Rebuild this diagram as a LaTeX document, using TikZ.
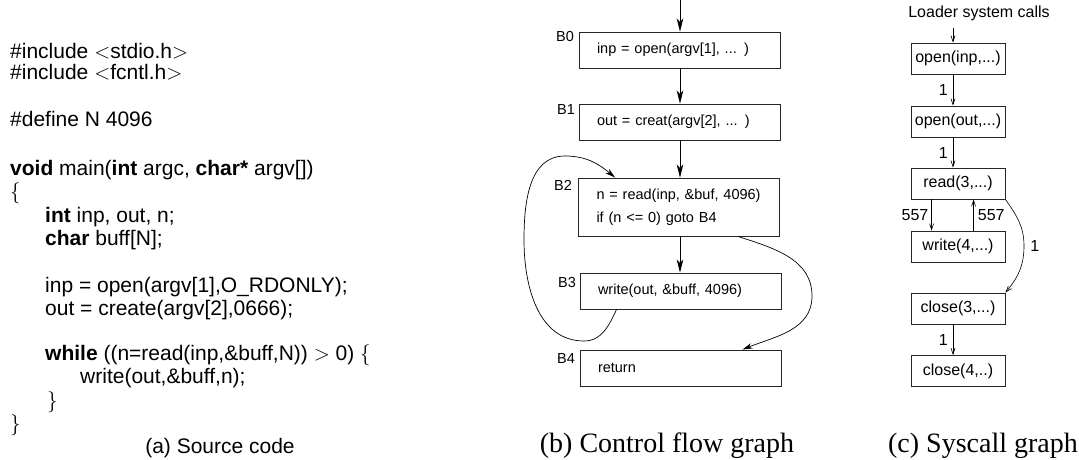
\RequirePackage{fix-cm}
\documentclass[tikz,border=0pt]{standalone}
\usepackage{fontspec}
\setmainfont{Liberation Serif}
\newfontfamily\hel{Liberation Sans}
\usetikzlibrary{arrows.meta}
\begin{document}
\begin{tikzpicture}[x=1pt,y=-1pt,
  code/.style={anchor=base west, inner sep=0pt, font=\hel\fontsize{21}{23}\selectfont},
  cfgbox/.style={draw=black!85, line width=0.9pt, minimum width=201pt, minimum height=36pt,
     text width=165pt, inner xsep=18pt, inner ysep=0pt, align=left, font=\hel\fontsize{14.5}{23}\selectfont},
  blabel/.style={inner sep=0pt, font=\hel\fontsize{14.5}{17}\selectfont},
  cfgarrow/.style={line width=0.8pt, -{Stealth[length=13pt,width=6.5pt,inset=3.5pt]}},
  cfgcurve/.style={line width=0.7pt, -{Stealth[length=10pt,width=5.5pt,inset=3pt]}},
  sysbox/.style={draw=black!85, line width=0.8pt, minimum width=94pt, minimum height=31pt, inner sep=0pt,
     font=\hel\fontsize{16}{18}\selectfont},
  sysarrow/.style={line width=0.6pt, -{Straight Barb[length=6pt,width=4pt]}},
  elabel/.style={inner sep=0pt, font=\hel\fontsize{16}{18}\selectfont},
  caption/.style={anchor=base, inner sep=0pt, font=\fontsize{28}{30}\selectfont}]
\useasboundingbox (0,0) rectangle (1079,460);

% (a) Source code
\node[code] (l1) at (10,59) {\#include $<$stdio.h$>$};
\node[code] (l2) at (10,79) {\#include $<$fcntl.h$>$};
\node[code] (l3) at (10,126) {\#define N 4096};
\node[code] (l4) at (10,175) {\textbf{void} main(\textbf{int} argc, \textbf{char*} argv[])};
\node[code] (l5) at (10,198) {$\{$};
\node[code] (l6) at (45,222) {\textbf{int} inp, out, n;};
\node[code] (l7) at (45,245) {\textbf{char} buff[N];};
\node[code] (l8) at (45,292) {inp = open(argv[1],O\_RDONLY);};
\node[code] (l9) at (45,315) {out = create(argv[2],0666);};
\node[code] (l10) at (45,360) {\textbf{while} ((n=read(inp,\&buff,N)) $>$ 0) $\{$};
\node[code] (l11) at (80,383) {write(out,\&buff,n);};
\node[code] (l12) at (47,407) {$\}$};
\node[code] (l13) at (10,430) {$\}$};
\node[code, anchor=base] (capa) at (220,453) {(a) Source code};

% (b) Control flow graph
\node[cfgbox] (B0) at (679.5,50) {inp = open(argv[1], ... )};
\node[cfgbox] (B1) at (679.5,122) {out = creat(argv[2], ... )};
\node[cfgbox, minimum height=58pt] (B2) at (679,207) {n = read(inp, \&buf, 4096)\\if (n <= 0) goto B4};
\node[cfgbox] (B3) at (680.5,291) {write(out, \&buff, 4096)};
\node[cfgbox] (B4) at (680.5,368) {return};
\node[blabel] (lB0) at (565,37) {B0};
\node[blabel] (lB1) at (566,110) {B1};
\node[blabel] (lB2) at (563,185) {B2};
\node[blabel] (lB3) at (567,283) {B3};
\node[blabel] (lB4) at (566,359) {B4};
\coordinate (entry) at (680,0);
\draw[cfgarrow] (entry) -- (entry |- B0.north);
\draw[cfgarrow] (B0.south -| entry) -- (B1.north -| entry);
\draw[cfgarrow] (B1.south -| entry) -- (B2.north -| entry);
\draw[cfgarrow] (B2.south -| entry) -- (B3.north -| entry);
\draw[cfgcurve] ([xshift=37pt]B3.south west) to[out=-115,in=0] (584,341)
   to[out=180,in=-90] (524,240) to[out=90,in=180] (565,156) to[out=0,in=140] ([xshift=37pt]B2.north west);
\draw[cfgcurve] ([xshift=-42pt]B2.south east) to[out=-18,in=90] (812,296)
   to[out=-90,in=22] ([xshift=-39pt]B4.north east);
\node[caption] (capb) at (667,452) {(b) Control flow graph};

% (c) Syscall graph
\node[elabel] (loader) at (979,13) {Loader system calls};
\node[sysbox] (s1) at (958,58.5) {open(inp,...)};
\node[sysbox] (s2) at (958,121.5) {open(out,...)};
\node[sysbox] (s3) at (958,183.5) {read(3,...)};
\node[sysbox] (s4) at (958,246.5) {write(4,...)};
\node[sysbox] (s5) at (958,308.5) {close(3,...)};
\node[sysbox] (s6) at (958,371) {close(4,..)};
\coordinate (ld) at (953,28);
\draw[sysarrow] (ld) -- (ld |- s1.north);
\draw[sysarrow] (s1.south -| ld) -- node[elabel, left=5pt] (e1) {1} (s2.north -| ld);
\draw[sysarrow] (s2.south -| ld) -- node[elabel, left=5pt] (e2) {1} (s3.north -| ld);
\draw[sysarrow] ([xshift=21pt]s3.south west) -- node[elabel, left=3pt] (e3) {557} ([xshift=21pt]s4.north west);
\draw[sysarrow] ([xshift=63pt]s4.north west) -- node[elabel, right=4pt] (e4) {557} ([xshift=63pt]s3.south west);
\draw[sysarrow] (s3.south east) to[out=-55,in=90] (1024,246) node[elabel, right=6pt] (e5) {1}
   to[out=-90,in=50] (s5.north east);
\draw[sysarrow] (s5.south -| ld) -- node[elabel, left=5pt] (e6) {1} (s6.north -| ld);
\node[caption] (capc) at (983,452) {(c) Syscall graph};
\end{tikzpicture}
\end{document}
